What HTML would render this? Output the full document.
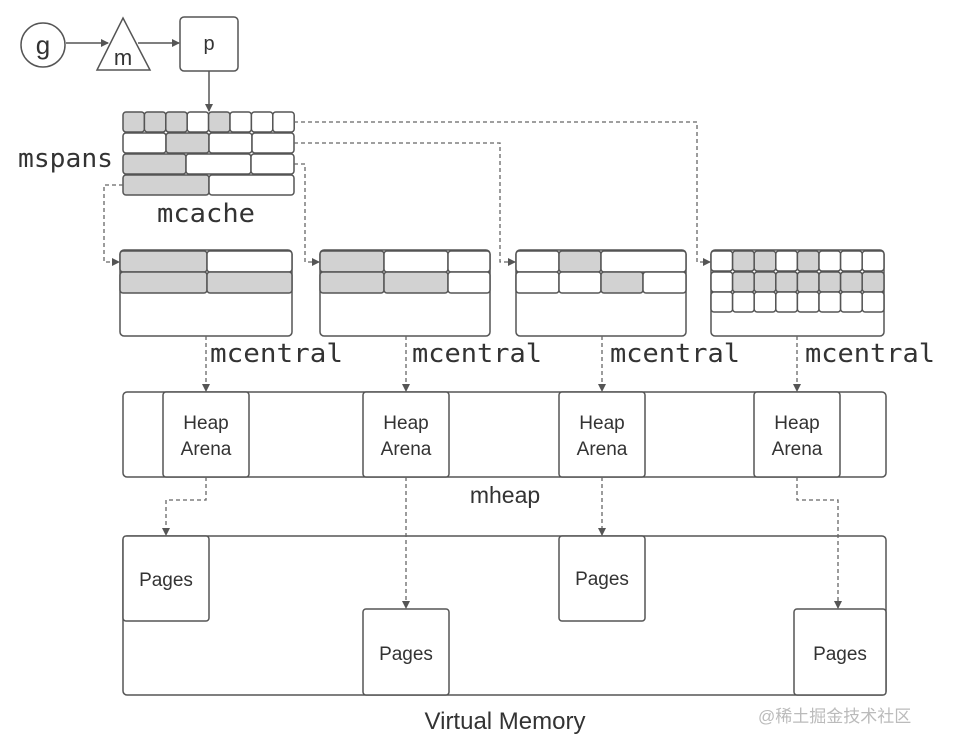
<!DOCTYPE html>
<html><head><meta charset="utf-8"><style>
html,body{margin:0;padding:0;background:#fff;width:972px;height:748px;overflow:hidden}
svg{display:block}
.c{stroke:#555;stroke-width:1.5;fill:#fff}
.g{stroke:#555;stroke-width:1.5;fill:#d2d2d2}
.b{stroke:#555;stroke-width:1.5;fill:none}
.d{stroke:#666;stroke-width:1.3;fill:none;stroke-dasharray:4 3}
.mono{font-family:"DejaVu Sans Mono","Liberation Mono",monospace;fill:#333}
.sans{font-family:"Liberation Sans",sans-serif;fill:#333}
</style></head><body>
<svg width="972" height="748" viewBox="0 0 972 748" xmlns="http://www.w3.org/2000/svg">
<defs><marker id="a" markerWidth="8" markerHeight="8" refX="7" refY="4" orient="auto" markerUnits="userSpaceOnUse"><path d="M0,0 L8,4 L0,8 z" fill="#555"/></marker></defs>
<circle cx="43" cy="45" r="22" class="b"/>
<text x="43" y="54" text-anchor="middle" class="sans" font-size="26">g</text>
<path d="M123,18 L150,70 L97,70 Z" class="b"/>
<text x="123" y="65" text-anchor="middle" class="sans" font-size="22">m</text>
<rect x="180" y="17" width="58" height="54" rx="4" class="b"/>
<text x="209" y="50" text-anchor="middle" class="sans" font-size="20">p</text>
<line x1="66" y1="43" x2="108" y2="43" class="b" marker-end="url(#a)"/>
<line x1="138" y1="43" x2="179" y2="43" class="b" marker-end="url(#a)"/>
<line x1="209" y1="71" x2="209" y2="111" class="b" marker-end="url(#a)"/>
<rect x="123" y="112" width="21.4" height="20" rx="3" class="g"/>
<rect x="144.4" y="112" width="21.4" height="20" rx="3" class="g"/>
<rect x="165.8" y="112" width="21.4" height="20" rx="3" class="g"/>
<rect x="187.2" y="112" width="21.4" height="20" rx="3" class="c"/>
<rect x="208.6" y="112" width="21.4" height="20" rx="3" class="g"/>
<rect x="230" y="112" width="21.4" height="20" rx="3" class="c"/>
<rect x="251.4" y="112" width="21.4" height="20" rx="3" class="c"/>
<rect x="272.8" y="112" width="21.4" height="20" rx="3" class="c"/>
<rect x="123" y="133" width="43" height="20" rx="3" class="c"/>
<rect x="166" y="133" width="43" height="20" rx="3" class="g"/>
<rect x="209" y="133" width="43" height="20" rx="3" class="c"/>
<rect x="252" y="133" width="42" height="20" rx="3" class="c"/>
<rect x="123" y="154" width="63" height="20" rx="3" class="g"/>
<rect x="186" y="154" width="65" height="20" rx="3" class="c"/>
<rect x="251" y="154" width="43" height="20" rx="3" class="c"/>
<rect x="123" y="175" width="86" height="20" rx="3" class="g"/>
<rect x="209" y="175" width="85" height="20" rx="3" class="c"/>
<text x="18" y="167" class="mono" font-size="26" textLength="95" lengthAdjust="spacingAndGlyphs">mspans</text>
<text x="157" y="222" class="mono" font-size="26" textLength="98" lengthAdjust="spacingAndGlyphs">mcache</text>
<path d="M294,122 H697 V262 H710" class="d" marker-end="url(#a)"/>
<path d="M294,143 H500 V262 H515" class="d" marker-end="url(#a)"/>
<path d="M294,164 H305 V262 H319" class="d" marker-end="url(#a)"/>
<path d="M123,185 H104 V262 H119" class="d" marker-end="url(#a)"/>
<rect x="120" y="250" width="172" height="86" rx="4" class="c"/>
<rect x="120" y="251" width="87" height="21" rx="3" class="g"/>
<rect x="207" y="251" width="85" height="21" rx="3" class="c"/>
<rect x="120" y="272" width="87" height="21" rx="3" class="g"/>
<rect x="207" y="272" width="85" height="21" rx="3" class="g"/>
<rect x="320" y="250" width="170" height="86" rx="4" class="c"/>
<rect x="320" y="251" width="64" height="21" rx="3" class="g"/>
<rect x="384" y="251" width="64" height="21" rx="3" class="c"/>
<rect x="448" y="251" width="42" height="21" rx="3" class="c"/>
<rect x="320" y="272" width="64" height="21" rx="3" class="g"/>
<rect x="384" y="272" width="64" height="21" rx="3" class="g"/>
<rect x="448" y="272" width="42" height="21" rx="3" class="c"/>
<rect x="516" y="250" width="170" height="86" rx="4" class="c"/>
<rect x="516" y="251" width="43" height="21" rx="3" class="c"/>
<rect x="559" y="251" width="42" height="21" rx="3" class="g"/>
<rect x="601" y="251" width="85" height="21" rx="3" class="c"/>
<rect x="516" y="272" width="43" height="21" rx="3" class="c"/>
<rect x="559" y="272" width="42" height="21" rx="3" class="c"/>
<rect x="601" y="272" width="42" height="21" rx="3" class="g"/>
<rect x="643" y="272" width="43" height="21" rx="3" class="c"/>
<rect x="711" y="250" width="173" height="86" rx="4" class="c"/>
<g>
<rect x="711" y="251" width="21.6" height="20" rx="3" class="c"/><rect x="732.6" y="251" width="21.6" height="20" rx="3" class="g"/><rect x="754.2" y="251" width="21.6" height="20" rx="3" class="g"/><rect x="775.8" y="251" width="21.6" height="20" rx="3" class="c"/><rect x="797.4" y="251" width="21.6" height="20" rx="3" class="g"/><rect x="819" y="251" width="21.6" height="20" rx="3" class="c"/><rect x="840.6" y="251" width="21.6" height="20" rx="3" class="c"/><rect x="862.2" y="251" width="21.8" height="20" rx="3" class="c"/>
<rect x="711" y="272" width="21.6" height="20" rx="3" class="c"/><rect x="732.6" y="272" width="21.6" height="20" rx="3" class="g"/><rect x="754.2" y="272" width="21.6" height="20" rx="3" class="g"/><rect x="775.8" y="272" width="21.6" height="20" rx="3" class="g"/><rect x="797.4" y="272" width="21.6" height="20" rx="3" class="g"/><rect x="819" y="272" width="21.6" height="20" rx="3" class="g"/><rect x="840.6" y="272" width="21.6" height="20" rx="3" class="g"/><rect x="862.2" y="272" width="21.8" height="20" rx="3" class="g"/>
<rect x="711" y="292" width="21.6" height="20" rx="3" class="c"/><rect x="732.6" y="292" width="21.6" height="20" rx="3" class="c"/><rect x="754.2" y="292" width="21.6" height="20" rx="3" class="c"/><rect x="775.8" y="292" width="21.6" height="20" rx="3" class="c"/><rect x="797.4" y="292" width="21.6" height="20" rx="3" class="c"/><rect x="819" y="292" width="21.6" height="20" rx="3" class="c"/><rect x="840.6" y="292" width="21.6" height="20" rx="3" class="c"/><rect x="862.2" y="292" width="21.8" height="20" rx="3" class="c"/>
</g>
<text x="210" y="362" class="mono" font-size="26" textLength="133" lengthAdjust="spacingAndGlyphs">mcentral</text>
<text x="412" y="362" class="mono" font-size="26" textLength="130" lengthAdjust="spacingAndGlyphs">mcentral</text>
<text x="610" y="362" class="mono" font-size="26" textLength="130" lengthAdjust="spacingAndGlyphs">mcentral</text>
<text x="805" y="362" class="mono" font-size="26" textLength="130" lengthAdjust="spacingAndGlyphs">mcentral</text>
<line x1="206" y1="336" x2="206" y2="391" class="d" marker-end="url(#a)"/>
<line x1="406" y1="336" x2="406" y2="391" class="d" marker-end="url(#a)"/>
<line x1="602" y1="336" x2="602" y2="391" class="d" marker-end="url(#a)"/>
<line x1="797" y1="336" x2="797" y2="391" class="d" marker-end="url(#a)"/>
<rect x="123" y="392" width="763" height="85" rx="4" class="b"/>
<rect x="163" y="392" width="86" height="85" rx="3" class="c"/>
<rect x="363" y="392" width="86" height="85" rx="3" class="c"/>
<rect x="559" y="392" width="86" height="85" rx="3" class="c"/>
<rect x="754" y="392" width="86" height="85" rx="3" class="c"/>
<g class="sans" font-size="19" text-anchor="middle">
<text x="206" y="429">Heap</text><text x="206" y="455">Arena</text>
<text x="406" y="429">Heap</text><text x="406" y="455">Arena</text>
<text x="602" y="429">Heap</text><text x="602" y="455">Arena</text>
<text x="797" y="429">Heap</text><text x="797" y="455">Arena</text>
</g>
<text x="505" y="503" text-anchor="middle" class="sans" font-size="23">mheap</text>
<rect x="123" y="536" width="763" height="159" rx="4" class="b"/>
<rect x="123" y="536" width="86" height="85" rx="3" class="c"/>
<rect x="363" y="609" width="86" height="86" rx="3" class="c"/>
<rect x="559" y="536" width="86" height="85" rx="3" class="c"/>
<rect x="794" y="609" width="92" height="86" rx="3" class="c"/>
<g class="sans" font-size="19" text-anchor="middle">
<text x="166" y="586">Pages</text>
<text x="406" y="660">Pages</text>
<text x="602" y="585">Pages</text>
<text x="840" y="660">Pages</text>
</g>
<path d="M206,477 V500 H166 V535" class="d" marker-end="url(#a)"/>
<line x1="406" y1="477" x2="406" y2="608" class="d" marker-end="url(#a)"/>
<line x1="602" y1="477" x2="602" y2="535" class="d" marker-end="url(#a)"/>
<path d="M797,477 V500 H838 V608" class="d" marker-end="url(#a)"/>
<text x="505" y="729" text-anchor="middle" class="sans" font-size="24">Virtual Memory</text>
<text x="758" y="722" font-family="'Liberation Sans','Noto Sans CJK SC',sans-serif" font-size="17" fill="#bbb">@稀土掘金技术社区</text>
</svg>
</body></html>
